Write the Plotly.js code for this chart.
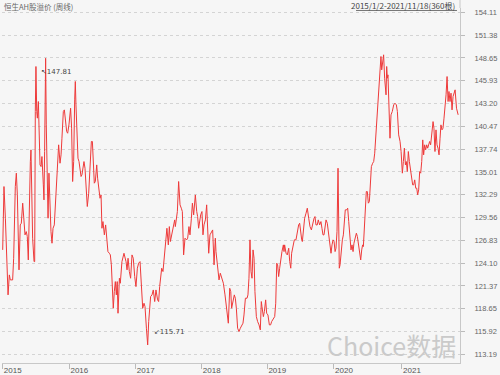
<!DOCTYPE html>
<html><head><meta charset="utf-8">
<script src="https://cdn.plot.ly/plotly-3.0.1.min.js"></script>
<style>html,body{margin:0;padding:0;background:#f6f6f6;}#chart{width:500px;height:375px;}</style>
</head><body><div id="chart"></div>
<script>
// week offsets since 2015/1/2 (weekly bars)
const weeks = [
0,1.0,2.1,3.1,4.2,5.2,6.0,7.8,8.6,9.9,10.7,11.5,12.0,12.8,13.8,14.6,15.7,16.5,17.5,18.5,19.3,20.1,20.9,21.7,22.2,22.7,23.5,24.6,25.1,25.6,26.1,26.7,27.2,28.0,28.8,29.3,30.1,30.8,31.9,32.4,32.9,33.7,34.2,34.8,35.6,36.3,37.1,37.9,38.7,39.5,40.5,41.3,42.1,43.1,43.9,45.0,45.8,46.5,47.6,48.4,49.2,50.2,51.0,52.0,53.3,54.1,54.9,55.7,56.5,57.0,57.5,58.3,59.1,59.9,60.7,61.5,62.2,63.0,63.8,64.6,65.6,66.4,67.5,68.5,69.6,70.4,71.1,71.9,72.7,73.8,74.5,75.6,76.4,77.2,77.9,78.7,79.8,80.8,81.6,82.6,83.7,84.5,85.3,86.1,86.8,87.6,88.4,89.2,89.9,90.5,
91.6,92.3,93.6,95.2,96.8,97.6,98.4,99.4,100.4,101.5,102.5,103.6,104.6,105.7,106.7,107.8,108.8,109.9,110.9,111.7,112.8,113.8,114.6,115.4,116.1,117.2,118.2,119.3,120.3,121.6,122.4,123.2,124.8,125.8,126.9,127.9,128.9,130.0,130.8,131.6,132.6,133.9,135.0,135.5,136.3,137.1,138.1,139.2,140.2,141.0,142.0,143.1,144.4,145.2,146.2,147.0,148.1,148.9,149.9,151.2,152.3,153.0,153.8,154.6,155.4,156.4,157.2,158.0,159.1,160.1,161.1,161.7,162.7,164.0,164.8,165.9,166.9,167.4,168.7,169.8,170.8,172.1,173.2,174.5,176.1,177.1,178.2,179.0,179.7,180.5,
181.8,182.6,183.4,184.4,185.5,186.5,187.6,188.6,189.4,190.5,191.8,192.5,193.3,194.1,194.9,195.7,196.5,197.3,198.0,199.1,200.1,201.2,202.2,203.0,203.5,204.6,205.4,206.4,207.2,208.2,209.3,210.3,211.1,212.4,213.5,214.3,215.1,215.8,216.6,217.4,218.2,219.2,220.3,220.8,221.3,222.4,223.4,224.5,225.3,226.1,226.8,227.9,228.9,230.2,231.3,232.3,233.1,233.9,234.7,235.2,236.0,237.0,238.1,239.1,240.2,241.2,242.3,243.3,244.4,245.1,245.9,246.9,247.7,248.8,249.8,250.6,251.4,252.2,253.0,253.8,254.8,255.9,256.9,257.7,258.5,259.3,260.1,260.9,261.6,262.4,263.2,263.7,264.2,264.8,265.8,266.6,267.4,268.2,268.9,270.0,270.8,271.6,272.4,
273.4,274.2,275.0,275.7,276.5,277.6,278.4,279.1,279.9,281.0,281.8,282.5,283.1,283.8,284.6,285.4,286.2,287.0,287.8,288.6,289.4,290.4,291.2,292.0,293.0,294.1,294.8,295.6,296.4,296.9,297.5,298.3,299.0,299.8,300.3,300.9,301.4,301.9,302.4,303.2,304.0,304.8,305.8,306.9,307.9,309.0,309.8,310.8,311.9,312.7,313.7,314.5,315.3,316.1,316.8,317.6,318.4,319.2,320.2,321.0,321.8,322.6,323.4,324.2,325.0,325.7,326.5,327.3,328.1,328.9,329.7,330.4,331.2,332.0,332.8,333.6,334.4,335.1,335.9,337.0,337.8,338.5,339.3,340.1,340.9,341.7,342.5,343.3,344.0,344.8,345.6,346.4,347.2,348.0,348.8,349.6,350.3,351.1,351.9,352.7,353.5,354.3,355.1,356.2,357.0,357.5
];
// 恒生AH股溢价 weekly close
const premium = [
125.68,133.26,129.47,123.89,120.30,122.69,122.09,122.09,124.68,133.26,134.86,132.26,127.08,123.29,128.67,128.87,131.27,129.87,127.48,127.87,127.28,124.48,133.06,136.25,137.65,132.66,127.08,124.28,124.28,142.24,147.62,142.24,141.44,143.43,138.25,135.85,135.65,136.85,133.46,131.66,137.45,148.61,140.64,133.46,129.47,134.86,131.07,127.87,126.48,128.27,128.67,131.07,133.46,136.25,138.25,136.05,137.05,139.04,142.24,142.43,141.24,139.84,139.64,140.64,142.63,140.24,133.86,136.25,143.63,145.83,143.03,139.84,136.65,136.25,135.45,134.46,134.66,135.25,136.25,135.45,132.66,130.87,132.46,136.05,138.65,138.65,136.45,133.66,133.86,135.85,134.26,132.26,131.86,132.26,128.27,129.07,127.48,128.67,127.08,125.48,125.28,125.08,123.89,121.89,118.70,120.69,121.89,120.30,121.89,118.10,
122.29,121.69,124.28,125.28,124.28,123.29,124.68,123.09,122.29,125.08,124.68,122.49,121.29,123.49,124.09,124.28,120.69,118.70,119.30,118.90,116.31,114.31,117.10,118.90,120.10,120.30,120.89,119.50,120.89,119.70,119.50,121.29,123.49,123.09,125.28,127.08,128.27,126.28,128.47,126.68,127.48,128.67,129.27,128.47,129.67,130.27,133.86,131.07,130.67,130.27,125.08,127.08,126.88,127.08,128.47,127.48,129.47,131.27,129.87,132.26,130.27,129.67,128.27,129.07,129.87,130.27,127.48,128.67,129.27,131.07,127.08,125.28,127.48,127.87,128.07,123.89,127.08,125.48,123.69,122.09,122.89,122.29,121.69,120.30,117.90,116.91,121.09,120.69,118.70,119.50,
120.30,119.90,118.70,116.31,115.91,116.31,116.71,116.91,117.90,119.90,119.90,120.30,122.29,126.88,123.09,122.29,125.68,124.68,120.69,117.70,117.10,116.71,116.11,119.50,118.90,117.70,118.30,119.70,118.10,117.90,116.71,116.71,117.10,117.50,117.70,119.30,124.09,123.89,122.49,123.49,124.48,125.48,126.28,125.48,126.28,125.28,125.08,125.88,124.28,123.49,125.28,126.28,126.88,126.88,127.87,128.67,128.87,127.68,126.88,126.68,127.87,129.47,130.07,130.67,129.47,128.47,128.07,128.87,129.47,129.67,128.67,128.67,129.27,128.67,129.07,128.27,127.48,127.48,128.47,129.27,128.87,127.48,126.48,125.28,126.28,126.88,126.68,125.48,125.88,127.87,135.45,130.47,123.49,123.89,125.68,126.88,127.48,129.47,130.47,130.47,130.67,129.07,127.08,
125.68,126.28,125.48,126.48,127.08,127.68,127.28,126.48,125.48,124.48,125.68,126.28,126.08,127.87,131.07,132.66,132.66,131.27,131.46,133.86,135.65,136.05,136.25,137.25,139.84,141.44,143.83,146.02,148.02,148.82,147.22,148.42,149.02,146.22,145.02,144.23,147.62,146.22,146.62,142.63,139.04,141.84,142.24,143.03,143.23,143.03,142.24,139.44,138.65,137.45,134.86,136.25,137.85,135.85,136.25,135.05,137.45,136.25,135.05,133.86,133.46,133.46,134.06,133.06,133.06,132.26,132.86,135.05,134.86,136.25,138.84,137.05,138.25,137.65,138.25,137.85,138.25,138.65,138.25,139.84,141.03,140.24,137.45,140.04,138.25,137.85,137.05,139.04,140.64,140.04,140.24,141.44,142.63,144.23,146.42,143.43,144.63,143.43,144.43,142.43,144.03,144.63,144.83,142.63,142.24,141.84
];
const yearTickWeeks = [0, 52.3, 104.4, 156.2, 207.7, 260, 313.4];
const yearLabels = ['2015','2016','2017','2018','2019','2020','2021'];
const yTickLabels = ['113.19','115.92','118.65','121.37','124.10','126.83','129.56','132.29','135.01','137.74','140.47','143.20','145.93','148.65','151.38','154.11'];
const yTickVals = yTickLabels.map(Number);
const titleText = '恒生AH股溢价 (周线)';
const rangeText = '2015/1/2-2021/11/18(360根)';
const maxLabel = '147.81';
const minLabel = '115.71';
const watermark = 'Choice数据';

// locate the marked extremes (2015 peak, overall trough)
let iMax = 0;
for (let i = 0; i < weeks.length; i++) if (weeks[i] < 100 && premium[i] > premium[iMax]) iMax = i;
let iMin = 0;
for (let i = 0; i < weeks.length; i++) if (premium[i] < premium[iMin]) iMin = i;

const trace = {
  x: weeks, y: premium, type: 'scatter', mode: 'lines',
  line: {color: '#ee3a3a', width: 1}, hoverinfo: 'skip'
};
const txtFont = 'Liberation Sans, Arial, sans-serif';
const layout = {
  width: 500, height: 375,
  margin: {l: 2, r: 40, t: 8, b: 12, pad: 0},
  paper_bgcolor: '#f6f6f6', plot_bgcolor: '#f6f6f6',
  showlegend: false,
  xaxis: {
    range: [-0.55, 358.95], showgrid: false, zeroline: false,
    showline: true, linecolor: '#c8c8c8', linewidth: 1,
    ticks: 'outside', ticklen: 5, tickcolor: '#bbbbbb',
    tickvals: yearTickWeeks, ticktext: yearLabels,
    ticklabelshift: 10, ticklabelstandoff: -6,
    tickfont: {family: txtFont, size: 8, color: '#555'}
  },
  yaxis: {
    side: 'right', range: [112.15, 154.62], zeroline: false,
    showline: true, linecolor: '#c8c8c8', linewidth: 1,
    ticks: 'outside', ticklen: 4, tickcolor: '#bbbbbb',
    tickvals: yTickVals, ticktext: yTickLabels,
    ticklabelstandoff: 8,
    showgrid: true, gridcolor: '#d4d4d4', griddash: 'dot', gridwidth: 1,
    tickfont: {family: txtFont, size: 7.5, color: '#666'}
  },
  shapes: [
    {type: 'line', xref: 'paper', yref: 'paper', x0: 1, x1: 1, y0: 1, y1: 1.03, line: {color: '#c8c8c8', width: 1}},
    {type: 'line', xref: 'paper', yref: 'paper', x0: 0.773, x1: 0.9934, y0: 0.993, y1: 0.993, line: {color: '#555', width: 0.8}}
  ],
  annotations: [
    {text: titleText, xref: 'paper', yref: 'paper', x: 0, y: 1.003, xanchor: 'left', yanchor: 'middle', showarrow: false,
     font: {family: 'Noto Sans CJK SC', size: 7.5, color: '#666'}},
    {text: rangeText, xref: 'paper', yref: 'paper', x: 0.9934, y: 1.006, xanchor: 'right', yanchor: 'middle', showarrow: false,
     font: {family: 'Noto Sans CJK SC', size: 8, color: '#444'}},
    {text: '↖' + maxLabel, x: weeks[iMax], y: premium[iMax], xref: 'x', yref: 'y', xanchor: 'left', yanchor: 'middle',
     xshift: -7, yshift: -14, showarrow: false, font: {family: 'DejaVu Sans', size: 7, color: '#444'}},
    {text: '↙' + minLabel, x: weeks[iMin], y: premium[iMin], xref: 'x', yref: 'y', xanchor: 'left', yanchor: 'middle',
     xshift: 4, yshift: 13, showarrow: false, font: {family: 'DejaVu Sans', size: 7, color: '#444'}},
    {text: watermark, xref: 'paper', yref: 'paper', x: 0.9934, y: 0.052, xanchor: 'right', yanchor: 'middle', showarrow: false,
     borderpad: 0, font: {family: 'Noto Sans CJK SC', size: 25, color: '#cacaca'}}
  ]
};
Plotly.newPlot('chart', [trace], layout, {staticPlot: true, displayModeBar: false});
</script></body></html>
